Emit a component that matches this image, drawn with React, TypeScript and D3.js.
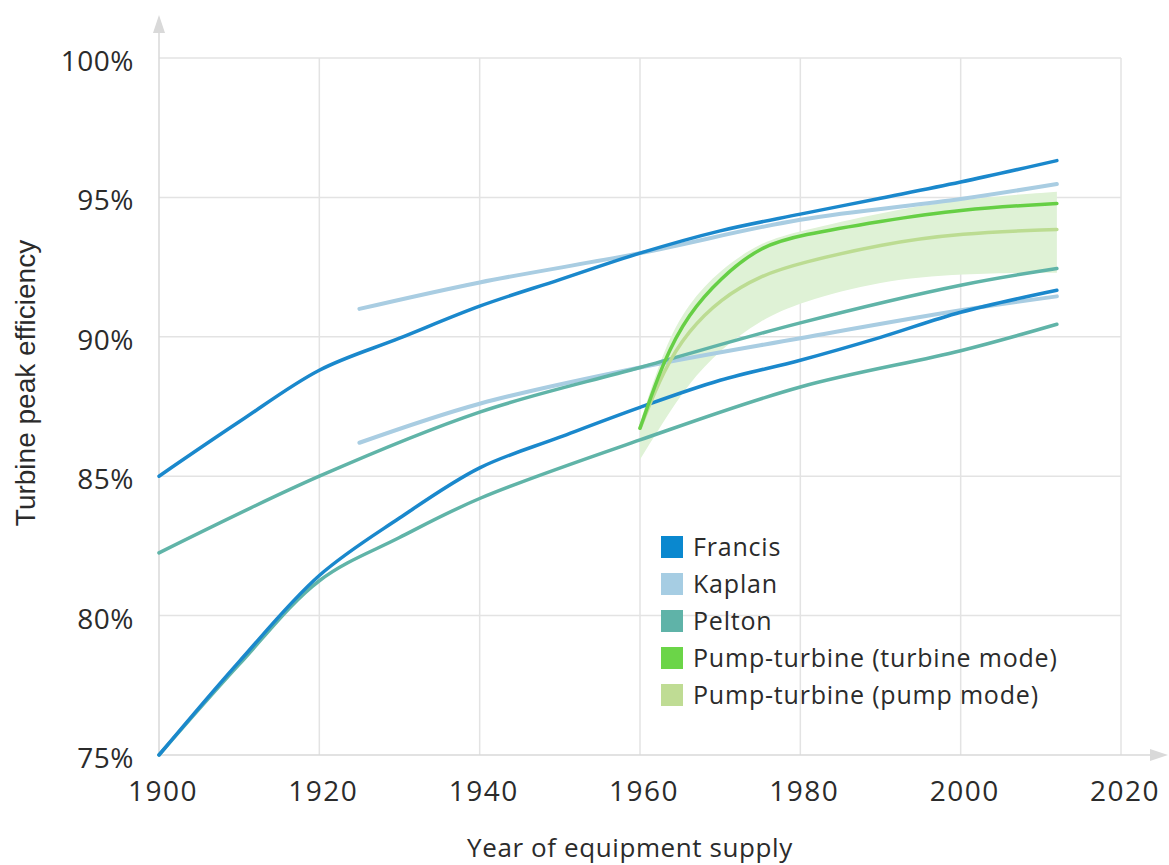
import React from "react";
import * as d3 from "d3";

const W = 1169;
const H = 865;

const xTicks = [1900, 1920, 1940, 1960, 1980, 2000, 2020];
const yTicks = [75, 80, 85, 90, 95, 100];

const francisUpperYears = [1900, 1910, 1920, 1930, 1940, 1950, 1960, 1970, 1980, 1990, 2000, 2012];
const francisUpperVals = [85.0, 86.95, 88.8, 89.95, 91.1, 92.05, 93.0, 93.8, 94.4, 94.97, 95.55, 96.32];

const francisLowerYears = [1900, 1910, 1920, 1930, 1940, 1950, 1960, 1970, 1980, 1990, 2000, 2012];
const francisLowerVals = [75.0, 78.35, 81.44, 83.5, 85.3, 86.4, 87.47, 88.44, 89.16, 89.98, 90.88, 91.67];

const kaplanUpperYears = [1925, 1940, 1960, 1980, 2000, 2012];
const kaplanUpperVals = [91.0, 91.95, 93.0, 94.2, 94.94, 95.48];

const kaplanLowerYears = [1925, 1940, 1960, 1980, 2000, 2012];
const kaplanLowerVals = [86.2, 87.6, 88.9, 89.95, 90.95, 91.45];

const peltonUpperYears = [1900, 1920, 1940, 1960, 1980, 2000, 2012];
const peltonUpperVals = [82.25, 85.0, 87.3, 88.9, 90.5, 91.85, 92.45];

const peltonLowerYears = [1900, 1910, 1920, 1930, 1940, 1960, 1980, 2000, 2012];
const peltonLowerVals = [75.0, 78.25, 81.25, 82.8, 84.2, 86.3, 88.2, 89.5, 90.45];

const pumpYears = [1960, 1963, 1966, 1970, 1975, 1980, 1990, 2000, 2012];
const turbineModeVals = [86.72, 89.2, 90.8, 92.1, 93.25, 93.65, 94.15, 94.58, 94.78];
const pumpModeVals = [86.72, 88.85, 90.2, 91.35, 92.2, 92.65, 93.32, 93.72, 93.85];
const bandUpperVals = [86.9, 89.6, 91.2, 92.4, 93.4, 93.8, 94.45, 94.95, 95.2];
const bandLowerVals = [85.6, 87.0, 88.3, 89.55, 90.6, 91.25, 92.02, 92.27, 92.3];

const legendLabels = ["Francis", "Kaplan", "Pelton", "Pump-turbine (turbine mode)", "Pump-turbine (pump mode)"];
const legendColors = ["#0a88cf", "#a6cde3", "#5fb3a8", "#6bd548", "#bfdc94"];

const FRANCIS = "#1a88cc";
const KAPLAN = "#a9cde2";
const PELTON = "#60b4a8";
const PT_TURB = "#66cf45";
const PT_PUMP = "#bcdc92";
const BAND = "#dff2d6";

const FONT = "'Open Sans', sans-serif";

export default function App() {
  const x = d3.scaleLinear().domain([1900, 2020]).range([159, 1121]);
  const y = d3.scaleLinear().domain([75, 100]).range([755, 58]);

  const smooth = d3.curveCatmullRom.alpha(0.5);
  const soft = d3.curveBasis;

  const mkLine = (c: d3.CurveFactory) =>
    d3
      .line<[number, number]>()
      .x((d) => x(d[0]))
      .y((d) => y(d[1]))
      .curve(c);

  const zip = (a: number[], b: number[]) => a.map((v, i) => [v, b[i]] as [number, number]);

  const area = d3
    .area<number>()
    .x((_, i) => x(pumpYears[i]))
    .y0((_, i) => y(bandLowerVals[i]))
    .y1((_, i) => y(bandUpperVals[i]))
    .curve(soft);

  const series: { years: number[]; vals: number[]; color: string; w: number; c: d3.CurveFactory }[] = [
    { years: kaplanUpperYears, vals: kaplanUpperVals, color: KAPLAN, w: 4, c: smooth },
    { years: kaplanLowerYears, vals: kaplanLowerVals, color: KAPLAN, w: 4, c: smooth },
    { years: peltonUpperYears, vals: peltonUpperVals, color: PELTON, w: 3.5, c: smooth },
    { years: peltonLowerYears, vals: peltonLowerVals, color: PELTON, w: 3.5, c: smooth },
    { years: francisUpperYears, vals: francisUpperVals, color: FRANCIS, w: 3.5, c: smooth },
    { years: francisLowerYears, vals: francisLowerVals, color: FRANCIS, w: 3.5, c: smooth },
    { years: pumpYears, vals: pumpModeVals, color: PT_PUMP, w: 3.5, c: soft },
    { years: pumpYears, vals: turbineModeVals, color: PT_TURB, w: 3.5, c: soft },
  ];

  const gridColor = "#e3e3e3";
  const axisColor = "#d9d9d9";
  const textColor = "#2b2b2b";

  return (
    <svg
      width={W}
      height={H}
      style={{ position: "absolute", left: 0, top: 0, background: "#fff" }}
      fontFamily={FONT}
    >
      <rect x={0} y={0} width={W} height={H} fill="#fff" />
      {/* grid */}
      {yTicks.filter((t) => t !== 75).map((t) => (
        <line key={"gy" + t} x1={x(1900)} x2={x(2020)} y1={y(t)} y2={y(t)} stroke={gridColor} strokeWidth={1.5} />
      ))}
      {xTicks.filter((t) => t !== 1900).map((t) => (
        <line key={"gx" + t} x1={x(t)} x2={x(t)} y1={y(100)} y2={y(75)} stroke={gridColor} strokeWidth={1.5} />
      ))}
      {/* axes */}
      <line x1={x(1900)} x2={x(1900)} y1={y(75)} y2={30} stroke={axisColor} strokeWidth={1.5} />
      <path d={`M${x(1900) - 6},33 L${x(1900)},15 L${x(1900) + 6},33 Z`} fill={axisColor} />
      <line x1={x(1900)} x2={1152} y1={y(75)} y2={y(75)} stroke={axisColor} strokeWidth={1.5} />
      <path d={`M1150,${y(75) - 6} L1168,${y(75)} L1150,${y(75) + 6} Z`} fill={axisColor} />

      {/* band */}
      <path d={area(pumpYears) || ""} fill={BAND} />

      {/* lines */}
      {series.map((s, i) => (
        <path
          key={"s" + i}
          d={mkLine(s.c)(zip(s.years, s.vals)) || ""}
          fill="none"
          stroke={s.color}
          strokeWidth={s.w}
          strokeLinecap="round"
        />
      ))}

      {/* y tick labels */}
      {yTicks.map((t) => (
        <text key={"yl" + t} x={134} y={y(t) + 13} textAnchor="end" fontSize={28} letterSpacing={0.5} fill={textColor}>
          {t}%
        </text>
      ))}
      {/* x tick labels */}
      {xTicks.map((t) => (
        <text key={"xl" + t} x={x(t) + 4} y={801} textAnchor="middle" fontSize={28} letterSpacing={1.5} fill={textColor}>
          {t}
        </text>
      ))}

      {/* axis titles */}
      <text
        transform={`translate(35,383) rotate(-90)`}
        textAnchor="middle"
        fontSize={28}
        fontFamily="'Liberation Sans', Arial, sans-serif"
        fill={textColor}
      >
        Turbine peak efficiency
      </text>
      <text x={630} y={857} textAnchor="middle" fontSize={26} letterSpacing={0.6} fill={textColor}>
        Year of equipment supply
      </text>

      {/* legend */}
      {legendLabels.map((l, i) => (
        <g key={"lg" + i} transform={`translate(661,${547 + i * 37})`}>
          <rect x={0} y={-11} width={22} height={22} fill={legendColors[i]} />
          <text x={32} y={9} fontSize={25} letterSpacing={0.8} fill={textColor}>
            {l}
          </text>
        </g>
      ))}
    </svg>
  );
}
